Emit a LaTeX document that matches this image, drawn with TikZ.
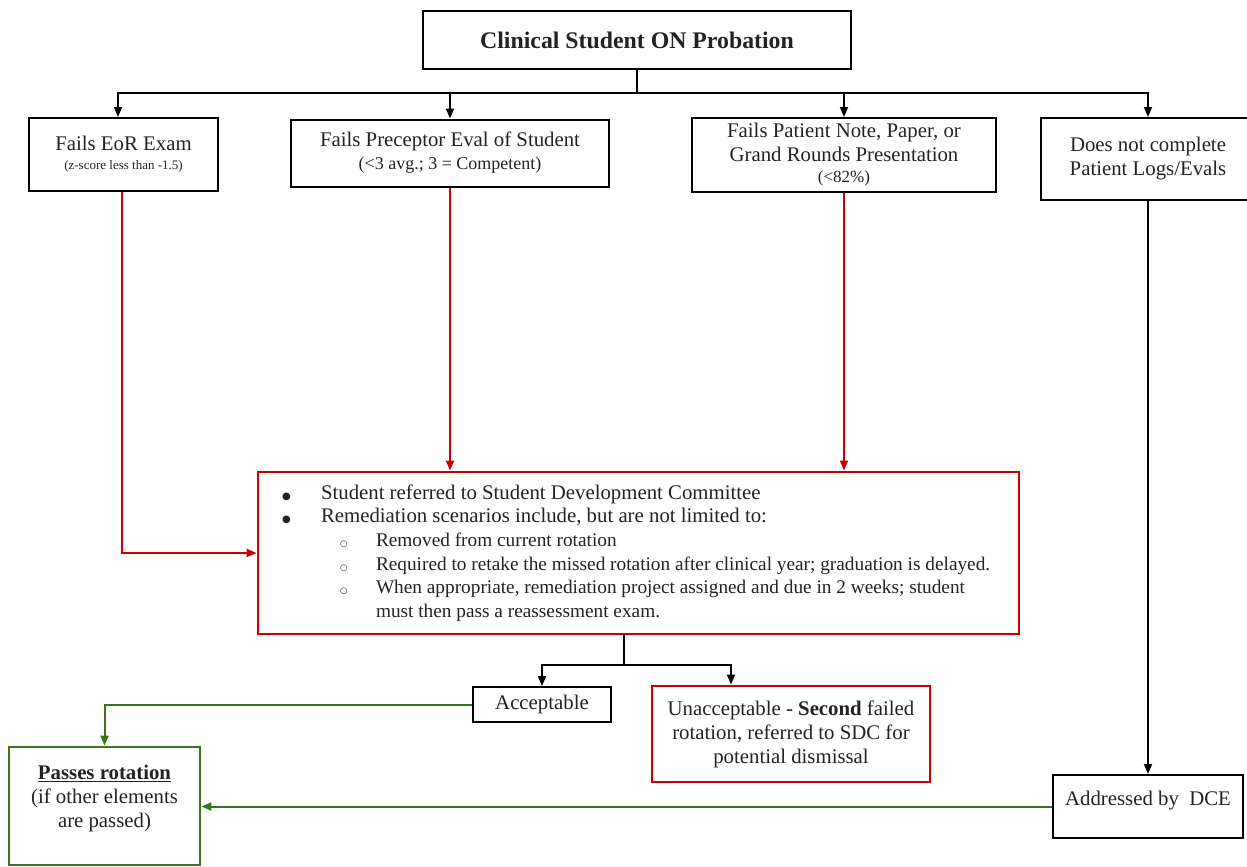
\documentclass[tikz,border=0pt]{standalone}
\usepackage{fontspec}
\setmainfont{Liberation Serif}
\newfontfamily\symfont{DejaVu Sans}
\usetikzlibrary{arrows.meta}
\definecolor{flowred}{HTML}{CC0000}
\definecolor{flowgreen}{HTML}{38761D}
\definecolor{inktext}{HTML}{222222}
\tikzset{
  box/.style={draw=black, line width=2pt, inner sep=2pt, align=center,
    text=inktext, font=\fontsize{20.8}{24}\selectfont},
  redbox/.style={box, draw=flowred, line width=2.8pt},
  greenbox/.style={box, draw=flowgreen, line width=2.8pt},
  tip/.style={-{Triangle[length=10pt,width=8pt]}},
  blk/.style={draw=black, line width=1.8pt},
  redline/.style={draw=flowred, line width=2pt, tip},
  greenline/.style={draw=flowgreen, line width=2pt, tip},
}
\begin{document}
\begin{tikzpicture}[x=1pt,y=1pt]
\useasboundingbox (0,0) rectangle (1247,-867);

% top box
\node[box, minimum width=428pt, minimum height=58pt,
      font=\fontsize{23.8}{28}\selectfont\bfseries] (top) at (637,-40)
  {Clinical Student ON Probation};

% failure criteria
\node[box, minimum width=189pt, minimum height=73pt] (eor) at (123.5,-154.5)
  {Fails EoR Exam\\[-5pt]{\fontsize{13}{15}\selectfont (z-score less than -1.5)}};
\node[box, minimum width=318pt, minimum height=67pt] (prec) at (450,-153)
  {Fails Preceptor Eval of Student\\[-1pt]{\fontsize{18}{20}\selectfont (<3 avg.; 3 = Competent)}};
\node[box, minimum width=304pt, minimum height=74pt] (note) at (844,-155)
  {Fails Patient Note, Paper, or\\Grand Rounds Presentation\\[-3pt]{\fontsize{17}{19}\selectfont (<82\%)}};
\node[box, minimum width=214pt, minimum height=82pt] (logs) at (1148,-159)
  {Does not complete\\Patient Logs/Evals};

% remediation box
\node[redbox, inner sep=0pt, minimum width=761pt, minimum height=162pt, align=left] (sdc) at (638.5,-553)
  {\parbox{761pt}{\fontsize{20.8}{23.6}\selectfont
   \hspace*{24pt}\makebox[39pt][l]{\symfont\fontsize{10}{10}\selectfont ●}Student referred to Student Development Committee\par
   \hspace*{24pt}\makebox[39pt][l]{\symfont\fontsize{10}{10}\selectfont ●}Remediation scenarios include, but are not limited to:\par
   \fontsize{19.3}{23.6}\selectfont
   \hspace*{82pt}\makebox[36pt][l]{\symfont\fontsize{8.5}{10}\selectfont ○}Removed from current rotation\par
   \hspace*{82pt}\makebox[36pt][l]{\symfont\fontsize{8.5}{10}\selectfont ○}Required to retake the missed rotation after clinical year; graduation is delayed.\par
   \hspace*{82pt}\makebox[36pt][l]{\symfont\fontsize{8.5}{10}\selectfont ○}When appropriate, remediation project assigned and due in 2 weeks; student\par
   \hspace*{118pt}must then pass a reassessment exam.}};

% outcomes
\node[box, minimum width=138pt, minimum height=35pt] (acc) at (542,-704.5) {Acceptable};
\node[redbox, minimum width=278pt, minimum height=96pt] (unacc) at (791,-734)
  {Unacceptable - \textbf{Second} failed\\rotation, referred to SDC for\\potential dismissal};
\node[greenbox, minimum width=191pt, minimum height=118pt] (pass) at (104.5,-806)
  {\textbf{\underline{Passes rotation}}\\(if other elements\\are passed)\\[-5pt]\mbox{}};
\node[box, minimum width=190pt, minimum height=63pt] (dce) at (1148,-806.5)
  {Addressed by~ DCE\\[-8pt]\mbox{}};

% branching from the top box
\coordinate (bus) at (637,-93);
\draw[blk] (top.south) -- (bus);
\draw[blk, tip] (bus) -| ([xshift=-5.5pt]eor.north);
\draw[blk, tip] (bus) -| (prec.north);
\draw[blk, tip] (bus) -| (note.north);
\draw[blk, tip] (bus) -| (logs.north);

% failures routed to the committee
\draw[redline] ([xshift=-1.5pt]eor.south) |- (sdc.west);
\draw[redline] (prec.south) -- (prec.south |- sdc.north);
\draw[redline] (note.south) -- (note.south |- sdc.north);

% incomplete logs
\draw[blk, tip] (logs.south) -- (dce.north);

% remediation outcome split
\coordinate (split) at (624,-665);
\draw[blk] (split |- sdc.south) -- (split);
\draw[blk, tip] (split) -| (acc.north);
\draw[blk, tip] (split) -| ([xshift=-60pt]unacc.north);

% paths to passing
\draw[greenline] (acc.west) -| (pass.north);
\draw[greenline] (dce.west) -- (dce.west -| pass.east);
\end{tikzpicture}
\end{document}
